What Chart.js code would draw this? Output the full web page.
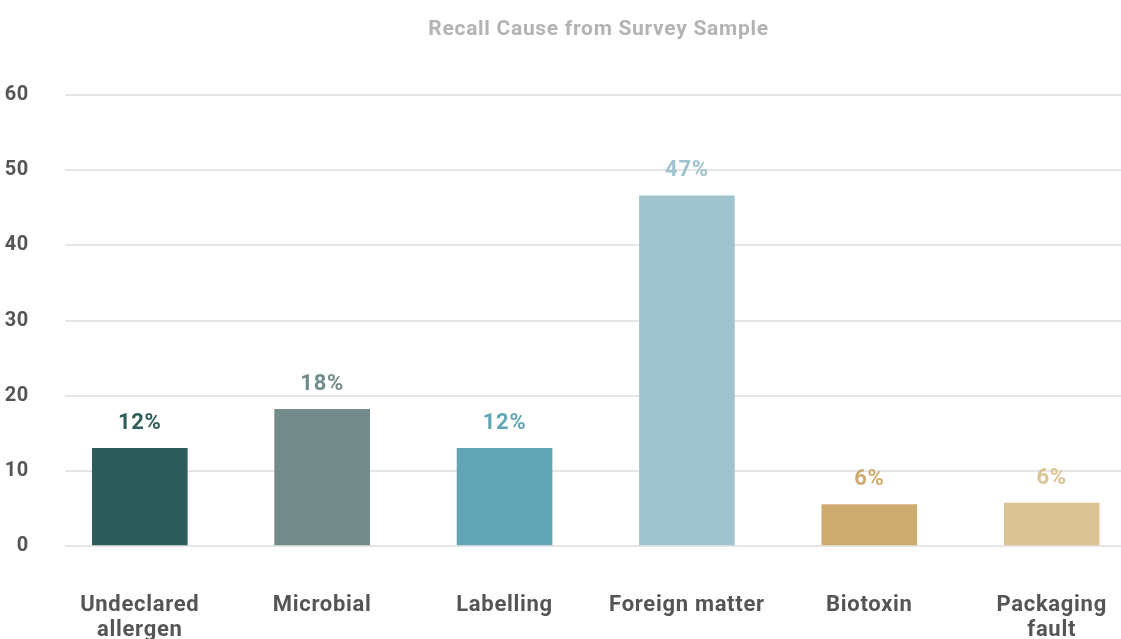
<!DOCTYPE html>
<html>
<head>
<meta charset="utf-8">
<script src="https://cdn.jsdelivr.net/npm/chart.js@4/dist/chart.umd.min.js"></script>
<style>
  html, body { margin: 0; padding: 0; background: #fff; overflow: hidden; }
  #wrap { width: 1121px; height: 639px; }
</style>
</head>
<body>
<div id="wrap"><canvas id="recallChart"></canvas></div>
<script>
// Kategoriler
const categories = [
  ["Undeclared", "allergen"],
  "Microbial",
  "Labelling",
  "Foreign matter",
  "Biotoxin",
  ["Packaging", "fault"]
];

// Çubuk yükseklikleri
const values = [13, 18.2, 13, 46.6, 5.5, 5.7];

// Çubukların üstündeki etiketler
const pctLabels = ["12%", "18%", "12%", "47%", "6%", "6%"];

const barColors = ["#2d5d5a", "#748b8b", "#62a6b5", "#9fc3cf", "#ceac6f", "#dbc394"];

const yTicks = [0, 10, 20, 30, 40, 50, 60];

const FONT = "Roboto, 'DejaVu Sans', sans-serif";

// Harf aralığı + başlığı grafik alanına göre ortala
const spacingPlugin = {
  id: "spacing",
  beforeLayout(chart) { chart.ctx.letterSpacing = "0.7px"; },
  afterLayout(chart) {
    if (chart.titleBlock) chart.titleBlock.left = 76;
  },
  beforeDraw(chart) { chart.ctx.letterSpacing = "0.7px"; }
};

// Yüzde etiketleri
const pctLabelPlugin = {
  id: "pctLabels",
  afterDatasetsDraw(chart) {
    const ctx = chart.ctx;
    const meta = chart.getDatasetMeta(0);
    ctx.save();
    ctx.font = "bold 22px " + FONT;
    ctx.textAlign = "center";
    ctx.textBaseline = "middle";
    meta.data.forEach((bar, i) => {
      ctx.fillStyle = barColors[i];
      ctx.fillText(pctLabels[i], bar.x, bar.y - 25);
    });
    ctx.restore();
  }
};

const ctx = document.getElementById("recallChart").getContext("2d");
new Chart(ctx, {
  type: "bar",
  data: {
    datasets: [{
      data: values.map((v, i) => ({ x: i, y: v })),
      backgroundColor: barColors,
      barThickness: 95,
      borderWidth: 0
    }]
  },
  options: {
    responsive: true,
    maintainAspectRatio: false,
    animation: false,
    layout: { padding: 0 },
    plugins: {
      legend: { display: false },
      tooltip: { enabled: false },
      title: {
        display: true,
        text: "Recall Cause from Survey Sample",
        color: "#b3b3b3",
        font: { family: FONT, size: 21, weight: "bold" },
        padding: { top: 17, bottom: 53 }
      }
    },
    scales: {
      x: {
        type: "linear",
        offset: false,
        min: -0.41,
        max: 5.38,
        grid: { display: false, drawTicks: false },
        border: { display: false },
        afterBuildTicks(scale) {
          scale.ticks = categories.map((c, i) => ({ value: i }));
        },
        afterFit(scale) {
          scale.height = 93;
          scale.paddingLeft = 0;
          scale.paddingRight = 0;
        },
        ticks: {
          autoSkip: false,
          maxRotation: 0,
          padding: 47,
          color: "#555555",
          font: { family: FONT, size: 22, weight: "bold", lineHeight: 1.14 },
          callback: (v) => categories[v]
        }
      },
      y: {
        min: 0,
        max: 60,
        afterBuildTicks(scale) {
          scale.ticks = yTicks.map(v => ({ value: v }));
        },
        afterFit(scale) { scale.width = 65; },
        grid: { color: "#e6e6e6", lineWidth: 2, drawTicks: false },
        border: { display: false },
        ticks: {
          padding: 36,
          color: "#555555",
          font: { family: FONT, size: 20, weight: "bold" }
        }
      }
    }
  },
  plugins: [spacingPlugin, pctLabelPlugin]
});
</script>
</body>
</html>
